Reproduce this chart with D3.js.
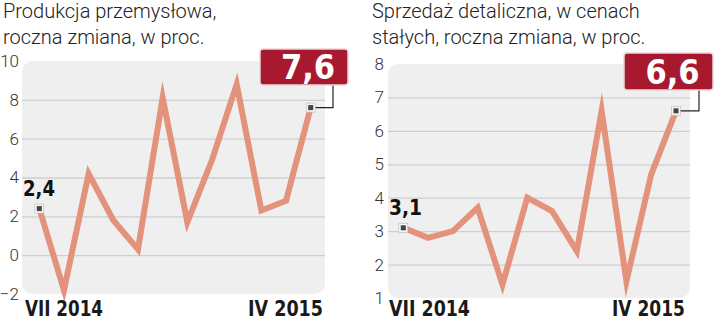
<!DOCTYPE html>
<html><head><meta charset="utf-8">
<script src="https://cdn.jsdelivr.net/npm/d3@7/dist/d3.min.js"></script>
<style>
html,body{margin:0;padding:0;background:#fff;}
svg{display:block;}
</style></head>
<body>
<svg id="c" width="720" height="323"></svg>
<script>
// ---- data ----
const monthsIndex = [0,1,2,3,4,5,6,7,8,9,10,11];
const xLabels = ["VII 2014", "IV 2015"];
const industryValues = [2.4, -1.8, 4.2, 1.8, 0.3, 8.1, 1.7, 4.9, 8.8, 2.3, 2.8, 7.6];
const retailValues = [3.1, 2.8, 3.0, 3.7, 1.4, 4.0, 3.6, 2.4, 6.6, 1.5, 4.7, 6.6];
const industryTicks = [-2, 0, 2, 4, 6, 8, 10];
const retailTicks = [1, 2, 3, 4, 5, 6, 7, 8];
const industryTitle = ["Produkcja przemysłowa,", "roczna zmiana, w proc."];
const retailTitle = ["Sprzedaż detaliczna, w cenach", "stałych, roczna zmiana, w proc."];
const industryFirstLabel = "2,4", industryLastLabel = "7,6";
const retailFirstLabel = "3,1", retailLastLabel = "6,6";

const svg = d3.select("#c");
const lightFont = "Roboto, 'Open Sans', sans-serif";
const boldFont = "'Liberation Sans Narrow', 'DejaVu Sans Condensed', sans-serif";

function panel(o) {
  const g = svg.append("g");
  const y = d3.scaleLinear().domain(o.domain).range([o.bottom, o.top]);
  const x = d3.scaleLinear().domain([0, 11]).range([o.px0, o.px1]);

  // title
  g.selectAll("text.title").data(o.title).join("text")
    .attr("x", o.titleX).attr("y", (d, i) => 18 + i * 26)
    .attr("font-family", lightFont).attr("font-weight", 300)
    .attr("font-size", 20).attr("fill", "#222").text(d => d);

  // background
  g.append("rect").attr("x", o.left).attr("y", o.top)
    .attr("width", o.right - o.left).attr("height", o.bottom - o.top)
    .attr("rx", 10).attr("fill", "#efefef");

  // grid
  const axis = d3.axisLeft(y).tickValues(o.ticks).tickSize(-(o.right - o.left)).tickPadding(4).tickFormat(d3.format("d"));
  const ax = g.append("g").attr("transform", `translate(${o.left},0)`).call(axis);
  ax.select(".domain").remove();
  ax.selectAll(".tick line").attr("stroke", "#cfcfcf").attr("stroke-width", 1.3)
    .attr("display", d => (d === o.domain[0] || d === o.domain[1]) ? "none" : null);
  ax.selectAll(".tick text").attr("font-family", lightFont).attr("font-weight", 300)
    .attr("font-size", 17).attr("fill", "#333").attr("x", o.tickX - o.left).attr("text-anchor", "end");

  // line
  const line = d3.line().x((d, i) => x(monthsIndex[i])).y(d => y(d));
  g.append("path").datum(o.values).attr("d", line)
    .attr("fill", "none").attr("stroke", "#e3927c").attr("stroke-width", 6)
    .attr("stroke-linejoin", "miter").attr("stroke-miterlimit", 10);

  const n = o.values.length - 1;
  const fx = x(monthsIndex[0]), fy = y(o.values[0]);
  const lx = x(monthsIndex[n]), ly = y(o.values[n]);

  // connector
  g.append("path").attr("d", `M${lx},${ly}H${o.connX}V${o.boxY + o.boxH}`)
    .attr("fill", "none").attr("stroke", "#222").attr("stroke-width", 1.2);

  // markers
  [[fx, fy], [lx, ly]].forEach(([cx, cy]) => {
    g.append("rect").attr("x", cx - 4.5).attr("y", cy - 4.5).attr("width", 9).attr("height", 9)
      .attr("fill", "#f4f4f4").attr("stroke", "#bbb").attr("stroke-width", 0.6);
    g.append("rect").attr("x", cx - 2.5).attr("y", cy - 2.5).attr("width", 5).attr("height", 5)
      .attr("fill", "#444");
  });

  // first label
  g.append("text").attr("x", o.firstX).attr("y", fy - 13)
    .attr("font-family", boldFont).attr("font-weight", 700).attr("font-size", 22)
    .attr("fill", "#111").attr("textLength", o.firstW).attr("lengthAdjust", "spacingAndGlyphs")
    .text(o.firstLabel);

  // callout box
  g.append("rect").attr("x", o.boxX).attr("y", o.boxY).attr("width", o.boxW).attr("height", o.boxH)
    .attr("rx", 3).attr("fill", "#a8192f").attr("stroke", "#e9d6d6").attr("stroke-width", 1.5);
  g.append("text").attr("x", o.boxX + o.boxW / 2 + 4).attr("y", o.boxY + o.boxH / 2 + 12)
    .attr("text-anchor", "middle").attr("font-family", boldFont).attr("font-weight", 700)
    .attr("font-size", 34).attr("fill", "#fff").text(o.lastLabel);

  // x labels
  g.append("text").attr("x", o.xl0).attr("y", 316)
    .attr("font-family", boldFont).attr("font-weight", 700).attr("font-size", 21)
    .attr("fill", "#1a1a1a").attr("textLength", o.xw0).attr("lengthAdjust", "spacingAndGlyphs")
    .text(xLabels[0]);
  g.append("text").attr("x", o.xl1 - o.xw1).attr("y", 316)
    .attr("font-family", boldFont).attr("font-weight", 700).attr("font-size", 21)
    .attr("fill", "#1a1a1a").attr("textLength", o.xw1).attr("lengthAdjust", "spacingAndGlyphs")
    .text(xLabels[1]);
}

panel({
  values: industryValues, ticks: industryTicks, domain: [-2, 10], title: industryTitle,
  titleX: 3, left: 22, right: 325, top: 61, bottom: 294, px0: 39.3, px1: 310.7, tickX: 19,
  connX: 333, boxX: 260, boxY: 49, boxW: 88, boxH: 36,
  firstLabel: industryFirstLabel, lastLabel: industryLastLabel, firstX: 23, firstW: 32,
  xl0: 25, xw0: 78, xl1: 323, xw1: 75
});
panel({
  values: retailValues, ticks: retailTicks, domain: [1, 8], title: retailTitle,
  titleX: 372, left: 388, right: 690, top: 64, bottom: 298, px0: 403.3, px1: 676, tickX: 384,
  connX: 699, boxX: 624, boxY: 53, boxW: 89, boxH: 37,
  firstLabel: retailFirstLabel, lastLabel: retailLastLabel, firstX: 389, firstW: 33,
  xl0: 389, xw0: 81, xl1: 685, xw1: 73
});
</script>
</body></html>
